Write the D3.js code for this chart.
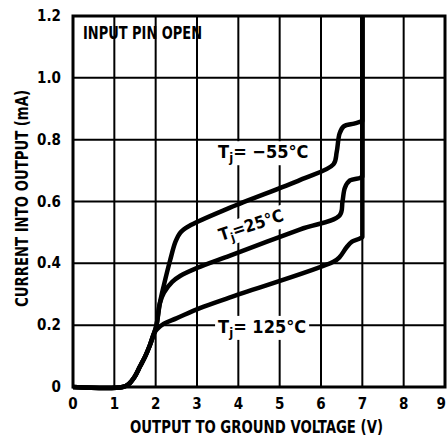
<!DOCTYPE html>
<html>
<head>
<meta charset="utf-8">
<script src="https://cdn.jsdelivr.net/npm/d3@7"></script>
<style>
  body { margin: 0; background: #fff; }
  svg { display: block; }
</style>
</head>
<body>
<div id="chart"></div>
<script>
const FONT = "'Liberation Sans Narrow', 'DejaVu Sans Condensed', 'DejaVu Sans', sans-serif";

// tick values
const xTicks = [0, 1, 2, 3, 4, 5, 6, 7, 8, 9];
const yTicks = [0, 0.2, 0.4, 0.6, 0.8, 1.0, 1.2];
const yTickLabels = ["0", "0.2", "0.4", "0.6", "0.8", "1.0", "1.2"];

// output voltage (V) vs current into output (mA)
const volt_m55 = [0, 1.2, 1.35, 1.5, 1.62, 1.75, 1.86, 1.95, 2.02, 2.1, 2.2, 2.35, 2.48, 2.6, 2.8, 3.8, 5.5, 6.3, 6.38, 6.45, 6.55, 6.8, 6.96, 7, 7];
const curr_m55 = [0, 0, 0.01, 0.035, 0.066, 0.1, 0.135, 0.17, 0.2, 0.27, 0.33, 0.41, 0.47, 0.5, 0.52, 0.58, 0.67, 0.72, 0.76, 0.82, 0.843, 0.852, 0.858, 0.86, 1.2];

const volt_25 = [0, 1.2, 1.35, 1.5, 1.62, 1.75, 1.86, 1.95, 2.02, 2.1, 2.2, 2.4, 2.6, 3.0, 3.8, 5.5, 6.45, 6.52, 6.58, 6.7, 6.94, 7, 7];
const curr_25 = [0, 0, 0.01, 0.035, 0.066, 0.1, 0.135, 0.17, 0.2, 0.27, 0.305, 0.34, 0.36, 0.385, 0.425, 0.51, 0.555, 0.6, 0.645, 0.668, 0.676, 0.68, 1.2];

const volt_125 = [0, 1.2, 1.35, 1.5, 1.62, 1.75, 1.86, 1.95, 2.02, 2.2, 2.5, 3.07, 3.8, 6.3, 6.45, 6.62, 6.75, 6.94, 7, 7];
const curr_125 = [0, 0, 0.01, 0.035, 0.066, 0.1, 0.135, 0.17, 0.185, 0.205, 0.222, 0.255, 0.29, 0.405, 0.42, 0.452, 0.47, 0.48, 0.485, 1.2];

const W = 447, H = 442;
const margin = { left: 73, right: 2, top: 16, bottom: 55 };

const svg = d3.select("#chart").append("svg")
  .attr("width", W)
  .attr("height", H);

const x = d3.scaleLinear().domain([0, 9]).range([margin.left, W - margin.right]);
const y = d3.scaleLinear().domain([0, 1.2]).range([H - margin.bottom, margin.top]);

// grid
svg.append("g").selectAll("line")
  .data(xTicks.slice(1, -1))
  .enter().append("line")
  .attr("x1", d => x(d)).attr("x2", d => x(d))
  .attr("y1", y(0)).attr("y2", y(1.2))
  .attr("stroke", "#000").attr("stroke-width", 2);

svg.append("g").selectAll("line")
  .data(yTicks.slice(1, -1))
  .enter().append("line")
  .attr("x1", x(0)).attr("x2", x(9))
  .attr("y1", d => y(d)).attr("y2", d => y(d))
  .attr("stroke", "#000").attr("stroke-width", 2);

// tick labels (the last one is pulled in so it stays on the page)
svg.append("g").selectAll("text")
  .data(xTicks)
  .enter().append("text")
  .attr("x", d => d === 9 ? W - 1 : x(d))
  .attr("y", y(0) + 22)
  .attr("text-anchor", d => d === 9 ? "end" : "middle")
  .attr("font-family", FONT)
  .attr("font-weight", "bold")
  .attr("font-size", 15)
  .text(d => d);

svg.append("g").selectAll("text")
  .data(yTicks)
  .enter().append("text")
  .attr("x", x(0) - 12)
  .attr("y", d => y(d) + 5)
  .attr("text-anchor", "end")
  .attr("font-family", FONT)
  .attr("font-weight", "bold")
  .attr("font-size", 15)
  .text((d, i) => yTickLabels[i]);

// axis titles, squeezed to look like the narrow bold face of the original
svg.append("text")
  .attr("x", 130)
  .attr("y", H - 9)
  .attr("font-family", FONT)
  .attr("font-weight", "bold")
  .attr("font-size", 17)
  .attr("textLength", 253)
  .attr("lengthAdjust", "spacingAndGlyphs")
  .text("OUTPUT TO GROUND VOLTAGE (V)");

svg.append("text")
  .attr("transform", "translate(28,307) rotate(-90)")
  .attr("font-family", FONT)
  .attr("font-weight", "bold")
  .attr("font-size", 18)
  .attr("textLength", 217)
  .attr("lengthAdjust", "spacingAndGlyphs")
  .text("CURRENT INTO OUTPUT (mA)");

svg.append("text")
  .attr("x", 83)
  .attr("y", 39)
  .attr("font-family", FONT)
  .attr("font-weight", "bold")
  .attr("font-size", 18)
  .attr("textLength", 119)
  .attr("lengthAdjust", "spacingAndGlyphs")
  .text("INPUT PIN OPEN");

// curves: smooth part, then the straight climb at 7 V
const line = d3.line()
  .x(d => x(d[0]))
  .y(d => y(d[1]))
  .curve(d3.curveCatmullRom.alpha(0.5));

const series = [
  [volt_m55, curr_m55],
  [volt_25, curr_25],
  [volt_125, curr_125]
];

series.forEach(function(s) {
  var pts = d3.zip(s[0], s[1]);
  var last = pts[pts.length - 1];
  svg.append("path")
    .attr("fill", "none")
    .attr("stroke", "#000")
    .attr("stroke-width", 4.5)
    .attr("stroke-linejoin", "round")
    .attr("d", line(pts.slice(0, -1)) + "L" + x(last[0]) + "," + y(last[1]));
});

// curve labels with a white patch behind them
function label(vx, vy, value, angle, size) {
  var g = svg.append("g")
    .attr("transform", "translate(" + x(vx) + "," + y(vy) + ") rotate(" + angle + ")");
  var bg = g.append("rect").attr("fill", "#fff");
  var t = g.append("text")
    .attr("font-family", FONT)
    .attr("font-weight", "bold")
    .attr("font-size", size);
  t.append("tspan").text("T");
  t.append("tspan").attr("font-size", size - 5).attr("dy", 4).text("j");
  t.append("tspan").attr("dy", -4).text(value);
  var b = t.node().getBBox();
  bg.attr("x", b.x - 3).attr("y", b.y).attr("width", b.width + 6).attr("height", b.height);
  return g;
}

label(3.51, 0.74, "= \u221255\u00b0C", 0, 18);
label(3.58, 0.472, "=25\u00b0C", -18, 17);
label(3.51, 0.175, "= 125\u00b0C", 0, 18);

// frame
svg.append("rect")
  .attr("x", x(0)).attr("y", y(1.2))
  .attr("width", x(9) - x(0)).attr("height", y(0) - y(1.2))
  .attr("fill", "none")
  .attr("stroke", "#000")
  .attr("stroke-width", 3);
</script>
</body>
</html>
